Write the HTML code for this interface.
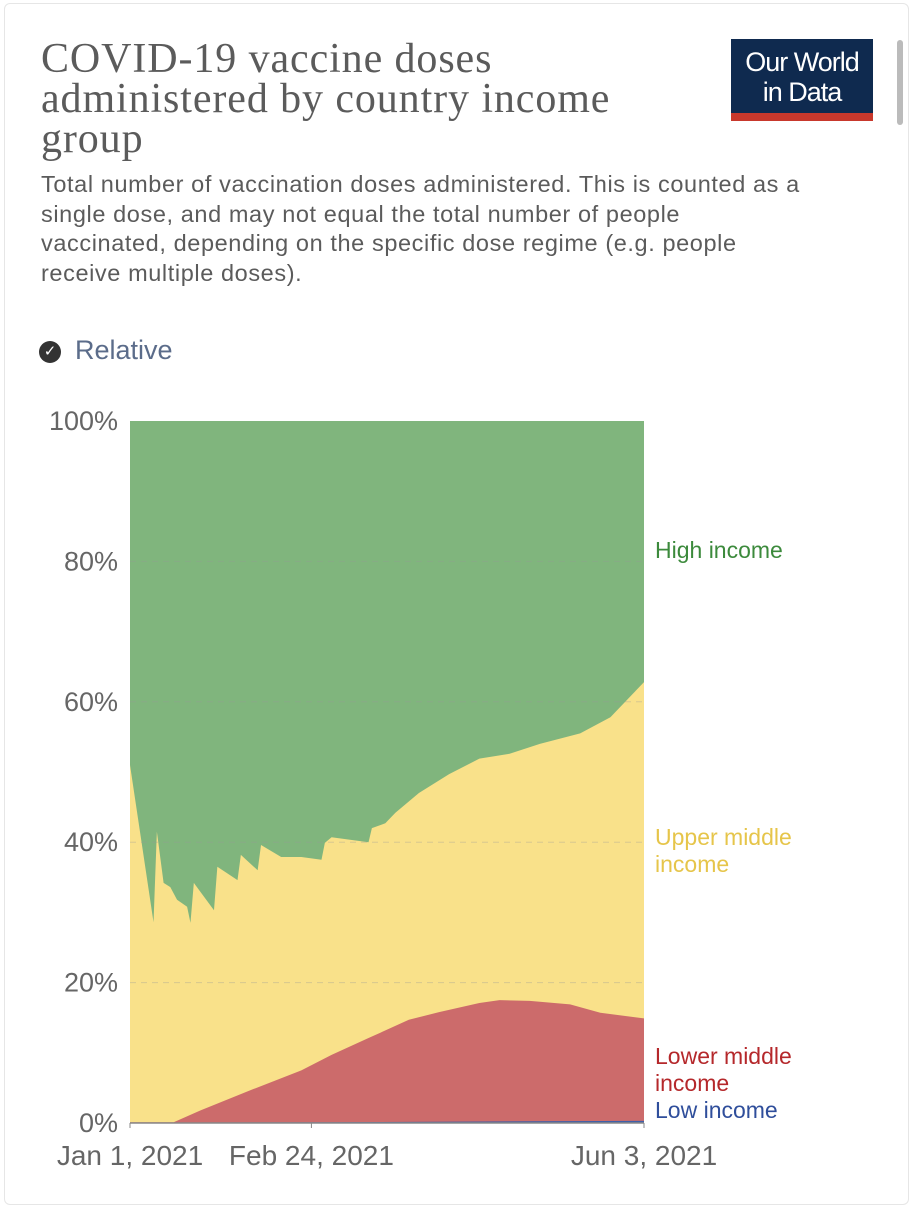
<!DOCTYPE html>
<html><head><meta charset="utf-8">
<style>
body{margin:0;width:913px;height:1200px;background:#fff;position:relative;overflow:hidden;font-family:"Liberation Sans",sans-serif}
.t{position:absolute;left:41px;top:39px;font-family:"Liberation Serif",serif;font-size:42px;line-height:40px;color:#5b5b5b;letter-spacing:0.9px;white-space:nowrap}
.s{position:absolute;left:41px;top:170px;font-size:23.5px;line-height:29.5px;color:#5b5b5b;white-space:nowrap;letter-spacing:0.6px}
.logo{position:absolute;left:731px;top:39px;width:142px;height:82px;background:#0f2a4f;color:#fff;text-align:center;font-size:27px;line-height:30px;letter-spacing:-1px}
</style></head><body>
<div style="position:absolute;left:4px;top:3px;width:903px;height:1200px;border:1px solid #e6e6e6;border-radius:6px"></div>
<div style="position:absolute;left:897px;top:40px;width:6px;height:85px;background:#bbb;border-radius:3px"></div>
<div class="t">COVID-19 vaccine doses<br>administered by country income<br>group</div>
<div class="s">Total number of vaccination doses administered. This is counted as a<br>single dose, and may not equal the total number of people<br>vaccinated, depending on the specific dose regime (e.g. people<br>receive multiple doses).</div>
<div class="logo"><div style="padding-top:8px">Our World<br>in Data</div><div style="position:absolute;left:0;bottom:0;width:100%;height:8px;background:#c8382c"></div></div>
<div style="position:absolute;left:39px;top:335px;color:#5b6c8a;font-size:27px">
<span style="display:inline-block;width:22px;height:22px;border-radius:50%;background:#333;color:#fff;font-size:15px;line-height:22px;text-align:center;vertical-align:middle;margin-right:14px">✓</span>Relative</div>
<svg id="c" width="913" height="1200" style="position:absolute;left:0;top:0"></svg>
<script>
const yTicks=[0,20,40,60,80,100];
const xTickDays=[0,54,153];
const xTickLabels=["Jan 1, 2021","Feb 24, 2021","Jun 3, 2021"];
// cumulative share (low + lower middle + upper middle), %
const upperDays=[0,7,8,10,12,14,17,18,19,25,26,32,33,38,39,45,51,57,58,60,71,72,76,79,86,95,104,113,122,134,143,153];
const upperTop=[51,28.6,41.5,34.2,33.6,31.8,30.8,28.5,34.2,30.3,36.5,34.6,38.2,36,39.6,37.9,37.9,37.5,39.9,40.7,40,42,42.7,44.2,47,49.7,51.9,52.6,54,55.5,57.8,62.8];
// cumulative share (low + lower middle), %
const lowerDays=[0,13,21,36,51,60,71,83,92,104,110,119,131,140,153];
const lowerTop=[0.1,0.1,1.8,4.7,7.5,9.7,12.1,14.7,15.8,17.1,17.5,17.4,16.9,15.7,14.9];
// low income share, %
const lowDays=[0,60,120,153];
const lowTop=[0.05,0.1,0.25,0.3];
const X0=130,X1=644,Y0=1123,Y1=421,ND=153;
const xs=d=>X0+(X1-X0)*d/ND, ys=v=>Y0-(Y0-Y1)*v/100;
const svg=document.getElementById('c'),NS='http://www.w3.org/2000/svg';
function mk(t,a){const e=document.createElementNS(NS,t);for(const k in a)e.setAttribute(k,a[k]);svg.appendChild(e);return e;}
let e=mk('rect',{x:X0,y:Y1,width:X1-X0,height:Y0-Y1,fill:'#80b57d'});

function area(days,vals,fill,name){let p=days.map((d,i)=>xs(d)+','+ys(vals[i]));p.push(xs(days[days.length-1])+','+Y0,xs(days[0])+','+Y0);
const el=mk('polygon',{points:p.join(' '),fill:fill});

}
area(upperDays,upperTop,'#f9e18a','area-upper-middle-income');
area(lowerDays,lowerTop,'#cc6b6b','area-lower-middle-income');
area(lowDays,lowTop,'#3f5fa8','area-low-income');
yTicks.forEach(v=>{
 if(v>0&&v<100){const g=mk('line',{x1:X0,x2:X1,y1:ys(v),y2:ys(v),stroke:'#999','stroke-opacity':0.35,'stroke-dasharray':'6,5'});
 }
 const t=mk('text',{x:118,y:ys(v)+9,'text-anchor':'end','font-size':27,fill:'#666','font-family':'Liberation Sans, sans-serif'});
 t.textContent=v+'%';
});
const ax=mk('line',{x1:X0,x2:X1,y1:Y0,y2:Y0,stroke:'#888','stroke-width':1.5});

xTickDays.forEach((d,i)=>{
 const tk=mk('line',{x1:xs(d),x2:xs(d),y1:Y0,y2:Y0+5,stroke:'#888'});
 
 const t=mk('text',{x:xs(d),y:1165,'text-anchor':'middle','font-size':28,fill:'#666','font-family':'Liberation Sans, sans-serif'});
 t.textContent=xTickLabels[i];
});
const labels=[[["High income"],558,'#3c8a3c','label-high-income'],[["Upper middle","income"],845,'#e6c54a','label-upper-middle-income'],[["Lower middle","income"],1064,'#b5282b','label-lower-middle-income'],[["Low income"],1118,'#2f4e9b','label-low-income']];
labels.forEach(l=>{l[0].forEach((s,j)=>{
 const t=mk('text',{x:655,y:l[1]+j*27,'font-size':23,fill:l[2],'font-family':'Liberation Sans, sans-serif'});
 t.textContent=s;});});
</script>
</body></html>
